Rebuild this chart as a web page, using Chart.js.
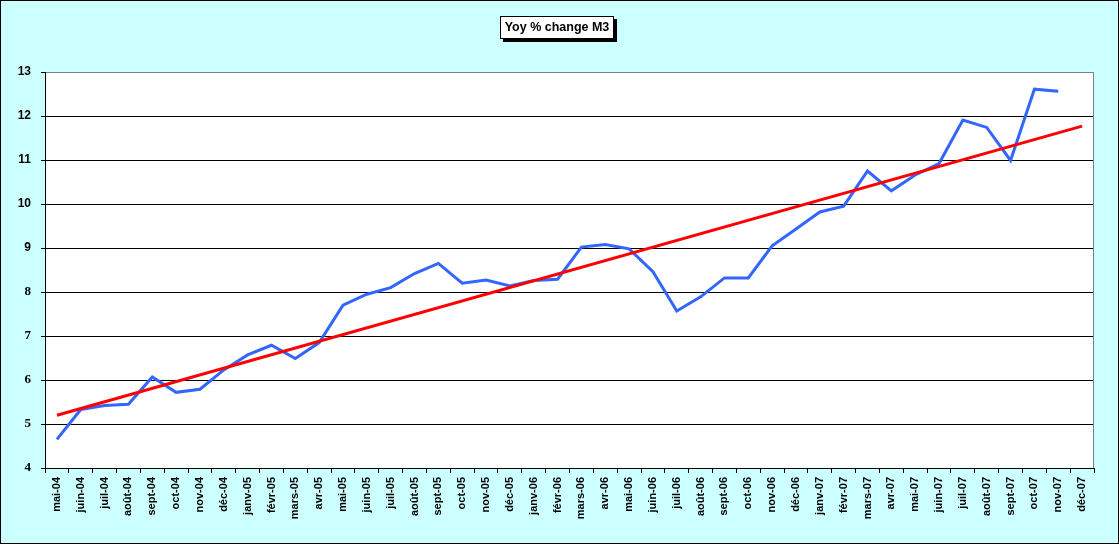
<!DOCTYPE html>
<html lang="fr">
<head>
    <meta charset="UTF-8">
    <title>Yoy % change M3</title>
    <script src="https://cdn.jsdelivr.net/npm/chart.js"></script>
    <style>
        body {
            margin: 0;
            background-color: #ccffff;
        }
        .chart-wrap {
            position: relative;
            width: 1119px;
            height: 544px;
        }
        .chart-title {
            position: absolute;
            left: 500px;
            top: 16px;
            width: 112px;
            height: 21px;
            border: 1px solid #000;
            background: #fff;
            box-shadow: 3px 3px 0 #000;
            font: bold 12.5px 'Liberation Sans', Arial, sans-serif;
            line-height: 21px;
            text-align: center;
            white-space: nowrap;
        }
    </style>
</head>
<body>
    <div class="chart-wrap">
        <canvas id="m3Chart"></canvas>
        <div class="chart-title">Yoy % change M3</div>
    </div>

    <script>
        // Months (x axis categories)
        const months = ['mai-04', 'juin-04', 'juil-04', 'août-04', 'sept-04', 'oct-04', 'nov-04', 'déc-04',
            'janv-05', 'févr-05', 'mars-05', 'avr-05', 'mai-05', 'juin-05', 'juil-05', 'août-05', 'sept-05', 'oct-05', 'nov-05', 'déc-05',
            'janv-06', 'févr-06', 'mars-06', 'avr-06', 'mai-06', 'juin-06', 'juil-06', 'août-06', 'sept-06', 'oct-06', 'nov-06', 'déc-06',
            'janv-07', 'févr-07', 'mars-07', 'avr-07', 'mai-07', 'juin-07', 'juil-07', 'août-07', 'sept-07', 'oct-07', 'nov-07', 'déc-07'];

        // M3 year-on-year growth, % (no value yet for déc-07)
        const m3Growth = [4.65, 5.33, 5.42, 5.45, 6.07, 5.72, 5.79, 6.23,
            6.57, 6.79, 6.49, 6.85, 7.70, 7.95, 8.10, 8.42, 8.65, 8.20, 8.27, 8.14,
            8.26, 8.29, 9.02, 9.08, 8.98, 8.46, 7.57, 7.89, 8.32, 8.32, 9.05, 9.43,
            9.82, 9.95, 10.75, 10.30, 10.66, 10.92, 11.91, 11.74, 10.99, 12.61, 12.56, null];

        // Linear trend: value at first and last month
        const trendStart = 5.20;
        const trendEnd = 11.77;
        const trendLine = months.map((m, i) => i === 0 ? trendStart : (i === months.length - 1 ? trendEnd : null));

        // Y axis range
        const yMin = 4;
        const yMax = 13;

        // Backgrounds and borders
        const framePlugin = {
            id: 'frame',
            beforeDraw(chart) {
                const { ctx, chartArea: a, width, height } = chart;
                ctx.save();
                ctx.fillStyle = '#ccffff';
                ctx.fillRect(0, 0, width, height);
                ctx.fillStyle = '#ffffff';
                ctx.fillRect(a.left, a.top, a.right - a.left, a.bottom - a.top);
                ctx.restore();
            },
            beforeDatasetsDraw(chart) {
                const { ctx, chartArea: a } = chart;
                ctx.save();
                ctx.strokeStyle = '#808080';
                ctx.lineWidth = 1;
                ctx.beginPath();
                ctx.moveTo(a.right - 0.5, a.top);
                ctx.lineTo(a.right - 0.5, a.bottom);
                ctx.stroke();
                ctx.restore();
            },
            afterDraw(chart) {
                const { ctx, width, height } = chart;
                ctx.save();
                ctx.strokeStyle = '#000';
                ctx.lineWidth = 1;
                ctx.strokeRect(0.5, 0.5, width - 1, height - 1);
                ctx.restore();
            }
        };

        const ctx = document.getElementById('m3Chart').getContext('2d');
        new Chart(ctx, {
            type: 'line',
            data: {
                labels: months,
                datasets: [{
                    label: 'Yoy % change M3',
                    data: m3Growth,
                    borderColor: '#3366ff',
                    borderWidth: 3,
                    pointRadius: 0,
                    tension: 0,
                    order: 2
                }, {
                    label: 'Trend',
                    data: trendLine,
                    borderColor: '#ff0000',
                    borderWidth: 3,
                    pointRadius: 0,
                    tension: 0,
                    spanGaps: true,
                    order: 1
                }]
            },
            options: {
                responsive: true,
                maintainAspectRatio: false,
                animation: false,
                layout: {
                    padding: { top: 72, right: 25, left: 0, bottom: 0 }
                },
                plugins: {
                    legend: { display: false },
                    title: { display: false },
                    tooltip: { enabled: false }
                },
                scales: {
                    x: {
                        offset: true,
                        grid: {
                            offset: true,
                            drawOnChartArea: false,
                            drawTicks: true,
                            tickLength: 5,
                            color: '#000'
                        },
                        border: { color: '#000', width: 1 },
                        ticks: {
                            autoSkip: false,
                            maxRotation: 90,
                            minRotation: 90,
                            padding: 4,
                            color: '#000',
                            font: { family: "'Liberation Sans', Arial, sans-serif", size: 11, weight: 'bold' }
                        },
                        afterFit(scale) { scale.height = 76; }
                    },
                    y: {
                        min: yMin,
                        max: yMax,
                        grid: {
                            color: c => (c.tick && c.tick.value === yMax) ? '#808080' : '#000',
                            tickColor: '#000',
                            tickLength: 4
                        },
                        border: { color: '#000', width: 1 },
                        ticks: {
                            stepSize: 1,
                            padding: 10,
                            color: '#000',
                            font: c => (c.tick && c.tick.value <= 8)
                                ? { family: "'Liberation Serif', 'Times New Roman', serif", size: 13, weight: 'bold' }
                                : { family: "'Liberation Sans', Arial, sans-serif", size: 12, weight: 'bold' }
                        },
                        afterFit(scale) { scale.width = 45; }
                    }
                }
            },
            plugins: [framePlugin]
        });
    </script>
</body>
</html>
